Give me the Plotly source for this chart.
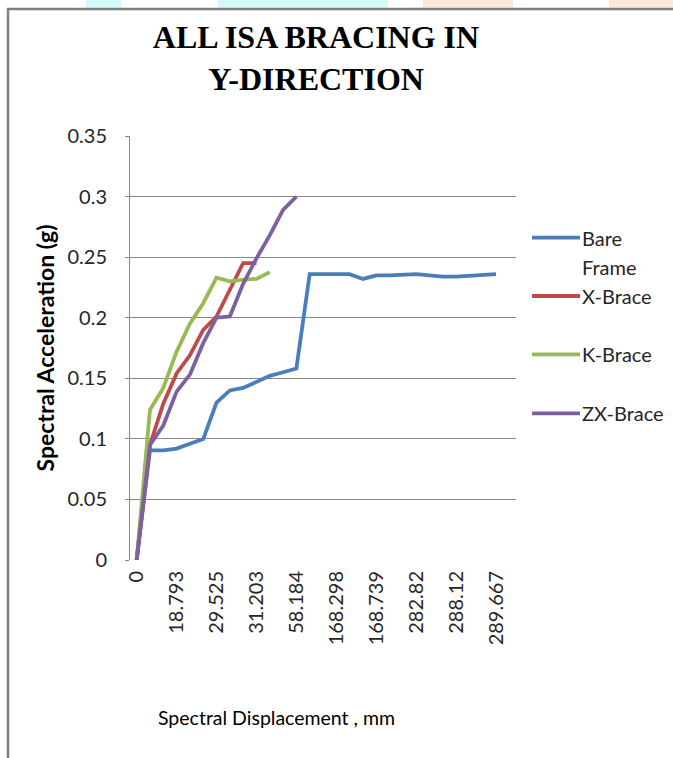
import plotly.graph_objects as go

# ---- data ----
tick_labels = ["0", "18.793", "29.525", "31.203", "58.184",
               "168.298", "168.739", "282.82", "288.12", "289.667"]
tick_step = 3  # every 3rd category is labelled

bare_frame = [0, 0.0905, 0.0905, 0.092, 0.096, 0.0998, 0.130, 0.140, 0.142,
              0.147, 0.152, 0.155, 0.158, 0.236, 0.236, 0.236, 0.236, 0.232,
              0.235, 0.235, 0.2357, 0.236, 0.235, 0.234, 0.234, 0.2346,
              0.235, 0.236]
x_brace = [0, 0.095, 0.129, 0.154, 0.169, 0.190, 0.201, 0.223, 0.245, 0.245]
k_brace = [0, 0.124, 0.142, 0.172, 0.195, 0.212, 0.233, 0.230, 0.2315,
           0.232, 0.2376]
zx_brace = [0, 0.095, 0.111, 0.139, 0.153, 0.179, 0.200, 0.201, 0.228,
            0.249, 0.268, 0.289, 0.300]

series = [
    ("Bare Frame", bare_frame, "#4A7EBB"),
    ("X-Brace", x_brace, "#BE4B48"),
    ("K-Brace", k_brace, "#98B954"),
    ("ZX-Brace", zx_brace, "#7D60A0"),
]
n_categories = 29

W, H = 673, 758
ML, MR, MT, MB = 130, 157, 136, 198
PW, PH = W - ML - MR, H - MT - MB


def px(xp):
    return (xp - ML) / PW


def py(yp):
    return (H - MB - yp) / PH


fig = go.Figure()
for name, vals, col in series:
    fig.add_trace(go.Scatter(
        x=list(range(len(vals))), y=vals, mode="lines", name=name,
        line=dict(color=col, width=3.8), showlegend=False))

SANS = "Lato, 'Open Sans', sans-serif"
shapes = []
annotations = []

# manual legend (Excel-like spacing)
legend_rows = [("Bare", 237.7, "#4A7EBB"), ("X-Brace", 296, "#BE4B48"),
               ("K-Brace", 354.3, "#98B954"), ("ZX-Brace", 413.3, "#7D60A0")]
for label, yy, col in legend_rows:
    shapes.append(dict(type="line", xref="paper", yref="paper",
                       x0=px(532), x1=px(580), y0=py(yy), y1=py(yy),
                       line=dict(color=col, width=3.8)))
    annotations.append(dict(text=label, xref="paper", yref="paper",
                            x=px(580), y=py(yy), xanchor="left", yanchor="middle",
                            showarrow=False, font=dict(family=SANS, size=20, color="#262626")))
annotations.append(dict(text="Frame", xref="paper", yref="paper",
                        x=px(580), y=py(266.7), xanchor="left", yanchor="middle",
                        showarrow=False, font=dict(family=SANS, size=20, color="#262626")))

# x-axis title (placed left of centre as in the reference)
annotations.append(dict(text="Spectral Displacement , mm", xref="paper", yref="paper",
                        x=px(276), y=py(717), xanchor="center", yanchor="middle",
                        showarrow=False, font=dict(family=SANS, size=19.5, color="#000000")))

# frame border and the coloured strips above it
shapes.append(dict(type="line", xref="paper", yref="paper", x0=px(8), x1=px(8),
                   y0=py(9), y1=py(760), line=dict(color="#808080", width=2.5)))
shapes.append(dict(type="line", xref="paper", yref="paper", x0=px(7), x1=px(680),
                   y0=py(9), y1=py(9), line=dict(color="#808080", width=2.5)))
for x0, x1, col in [(86, 121, "#D2FAFA"), (218, 388, "#D2FAFA"),
                    (423, 513, "#FDE7D8"), (609, 673, "#FDE7D8")]:
    shapes.append(dict(type="rect", xref="paper", yref="paper", x0=px(x0), x1=px(x1),
                       y0=py(7.5), y1=py(0), line=dict(width=0), fillcolor=col,
                       layer="below"))

fig.update_layout(
    width=W, height=H,
    margin=dict(l=ML, r=MR, t=MT, b=MB, autoexpand=False),
    paper_bgcolor="white", plot_bgcolor="white",
    title=dict(text="<b>ALL ISA BRACING IN<br>Y-DIRECTION</b>",
               x=316 / W, xanchor="center", xref="container",
               y=1 - 48 / H, yanchor="top", yref="container",
               font=dict(family="'Liberation Serif', 'Times New Roman', serif",
                         size=32, color="#000000")),
    shapes=shapes, annotations=annotations,
    showlegend=False,
)
fig.update_xaxes(
    range=[-0.5, n_categories - 0.5],
    tickmode="array",
    tickvals=[i * tick_step for i in range(len(tick_labels))],
    ticktext=tick_labels,
    tickangle=-90, showgrid=False, zeroline=False, showline=False,
    ticks="", tickfont=dict(family=SANS, size=20, color="#262626"),
    ticklabelstandoff=6,
)
fig.update_yaxes(
    range=[0, 0.35], dtick=0.05, tickformat="~g",
    showgrid=True, gridcolor="#878787", gridwidth=1,
    zeroline=False, showline=True, linecolor="#878787", linewidth=1,
    ticks="outside", ticklen=4, tickcolor="#878787",
    ticklabelstandoff=14,
    tickfont=dict(family=SANS, size=20, color="#262626"),
    title=dict(text="<b>Spectral Acceleration (g)</b>", standoff=6,
               font=dict(family=SANS, size=23, color="#000000")),
)

fig.write_html(
    "out.html",
    config={"displayModeBar": False},
    post_script="document.body.style.margin='0px';document.body.style.overflow='hidden';",
)
